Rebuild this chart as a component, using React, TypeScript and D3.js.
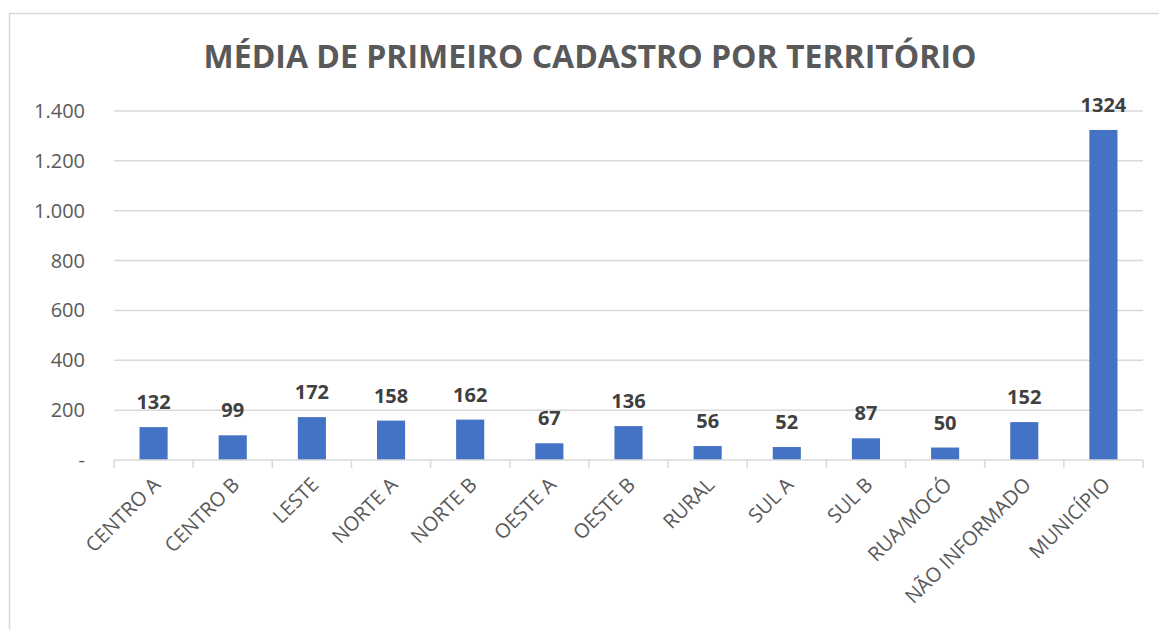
import React, { useEffect, useRef } from "react";
import * as d3 from "d3";

// Média de primeiro cadastro por território
const TERRITORIES = [
  "CENTRO A", "CENTRO B", "LESTE", "NORTE A", "NORTE B", "OESTE A", "OESTE B",
  "RURAL", "SUL A", "SUL B", "RUA/MOCÓ", "NÃO INFORMADO", "MUNICÍPIO",
];
const VALUES = [132, 99, 172, 158, 162, 67, 136, 56, 52, 87, 50, 152, 1324];
const Y_TICKS = [0, 200, 400, 600, 800, 1000, 1200, 1400];
const TITLE = "MÉDIA DE PRIMEIRO CADASTRO POR TERRITÓRIO";

export default function App() {
  const svgRef = useRef<SVGSVGElement>(null);

  useEffect(() => {
    const width = 1159;
    const height = 630;
    const margin = { top: 111, right: 16, bottom: 170, left: 114 };
    const innerW = 1143 - margin.left;
    const innerH = 460 - margin.top;

    const textColor = "#595959";
    const labelColor = "#404040";
    const gridColor = "#d9d9d9";
    const barColor = "#4472C4";
    const font = "'Open Sans', 'Liberation Sans', sans-serif";

    const svg = d3.select(svgRef.current);
    svg.selectAll("*").remove();
    svg.attr("width", width).attr("height", height).attr("viewBox", `0 0 ${width} ${height}`);

    svg.append("rect")
      .attr("width", width).attr("height", height).attr("fill", "#fff");

    // chart area border
    svg.append("rect")
      .attr("x", 9.5).attr("y", 13.5)
      .attr("width", width + 20).attr("height", height + 20)
      .attr("fill", "none").attr("stroke", gridColor).attr("stroke-width", 1.5);

    svg.append("text")
      .attr("x", 590).attr("y", 68)
      .attr("text-anchor", "middle")
      .attr("fill", textColor)
      .style("font-family", font)
      .style("font-size", "32px").style("font-weight", 700)
      .text(TITLE);

    const g = svg.append("g").attr("transform", `translate(${margin.left},${margin.top})`);

    const x = d3.scaleBand<string>()
      .domain(TERRITORIES)
      .range([0, innerW])
      .paddingInner(0.645)
      .paddingOuter(0.3225);

    const y = d3.scaleLinear().domain([0, 1400]).range([innerH, 0]);

    const loc = d3.formatLocale({ decimal: ",", thousands: ".", grouping: [3], currency: ["", ""] });
    const fmt = loc.format(",");

    // gridlines
    g.selectAll(".grid")
      .data(Y_TICKS.filter(d => d > 0))
      .join("line")
      .attr("x1", 0).attr("x2", innerW)
      .attr("y1", d => y(d)).attr("y2", d => y(d))
      .attr("stroke", gridColor).attr("stroke-width", 1.5);

    // y labels
    g.selectAll(".ylab")
      .data(Y_TICKS)
      .join("text")
      .attr("x", -29).attr("y", d => y(d) + 7)
      .attr("text-anchor", "end")
      .attr("fill", textColor)
      .style("font-family", font)
      .style("font-size", "20px")
      .text(d => d === 0 ? "-" : fmt(d));

    // bars
    g.selectAll(".bar")
      .data(VALUES)
      .join("rect")
      .attr("x", (d, i) => x(TERRITORIES[i])!)
      .attr("y", d => y(d))
      .attr("width", x.bandwidth())
      .attr("height", d => innerH - y(d))
      .attr("fill", barColor);

    // x axis
    const step = x.step();
    g.append("line")
      .attr("x1", 0).attr("x2", innerW)
      .attr("y1", innerH).attr("y2", innerH)
      .attr("stroke", gridColor).attr("stroke-width", 1.5);
    g.selectAll(".xtick")
      .data(d3.range(TERRITORIES.length + 1))
      .join("line")
      .attr("x1", i => i * step).attr("x2", i => i * step)
      .attr("y1", innerH).attr("y2", innerH + 8)
      .attr("stroke", gridColor).attr("stroke-width", 1.5);

    // value labels
    g.selectAll(".vlab")
      .data(VALUES)
      .join("text")
      .attr("x", (d, i) => x(TERRITORIES[i])! + x.bandwidth() / 2)
      .attr("y", d => y(d) - 18)
      .attr("text-anchor", "middle")
      .attr("fill", labelColor)
      .style("font-family", font)
      .style("font-size", "20px").style("font-weight", 700)
      .text(d => d);

    // category labels
    g.selectAll(".xlab")
      .data(TERRITORIES)
      .join("text")
      .attr("transform", d => `translate(${x(d)! + x.bandwidth() / 2 + 8},${innerH + 26}) rotate(-45)`)
      .attr("text-anchor", "end")
      .attr("fill", textColor)
      .style("font-family", font)
      .style("font-size", "20px")
      .text(d => d);
  }, []);

  return (
    <div style={{ position: "absolute", left: 0, top: 0, width: 1159, height: 630, overflow: "hidden" }}>
      <svg ref={svgRef} style={{ display: "block" }} />
    </div>
  );
}
